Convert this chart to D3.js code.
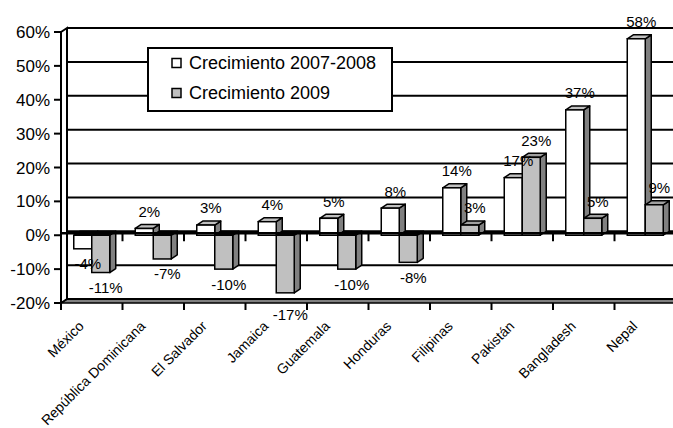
<!DOCTYPE html>
<html><head><meta charset="utf-8">
<script src="https://cdn.jsdelivr.net/npm/d3@7"></script>
<style>body{margin:0;background:#fff}svg{display:block;font-family:"Liberation Sans",Arial,sans-serif}</style>
</head><body><svg id="c" width="673" height="428"></svg>
<script>
const categories = ["México","República Dominicana","El Salvador","Jamaica","Guatemala","Honduras","Filipinas","Pakistán","Bangladesh","Nepal"];
const growth0708 = [-4,2,3,4,5,8,14,17,37,58];
const growth2009 = [-11,-7,-10,-17,-10,-8,3,23,5,9];
const seriesNames = ["Crecimiento 2007-2008","Crecimiento 2009"];
const yTicks = [-20,-10,0,10,20,30,40,50,60];

const W = 673, H = 428;
const DX = 6, DY = -4;
const svg = d3.select("#c");
const x0 = d3.scaleBand().domain(categories).range([61, 676]).paddingInner(0.415).paddingOuter(0.2075);
const x1 = d3.scaleBand().domain([0,1]).range([0, x0.bandwidth()]);
const y = d3.scaleLinear().domain([-20,60]).range([303,32]);
const step = x0.step();
const left = 61, right = W + 10;

const styles = [
  {front:"#ffffff", top:"#c0c0c0", side:"#808080"},
  {front:"#c0c0c0", top:"#a0a0a0", side:"#808080"}
];
const series = [growth0708, growth2009];

// floor
svg.append("polygon")
  .attr("points", [[left,y(-20)],[left+DX,y(-20)+DY],[right,y(-20)+DY],[right,y(-20)]].join(" "))
  .attr("fill","#808080").attr("stroke","#000").attr("stroke-width",1.5);
// back wall gridlines
svg.selectAll("line.grid").data(yTicks).join("line").attr("class","grid")
  .attr("x1",left+DX).attr("x2",right).attr("y1",d=>y(d)+DY).attr("y2",d=>y(d)+DY)
  .attr("stroke","#000").attr("stroke-width",2);
// left wall
svg.append("polygon")
  .attr("points", [[left,y(60)],[left+DX,y(60)+DY],[left+DX,y(-20)+DY],[left,y(-20)]].join(" "))
  .attr("fill","#fff").attr("stroke","#000").attr("stroke-width",2);
// y ticks + labels
svg.selectAll("line.yt").data(yTicks).join("line").attr("class","yt")
  .attr("x1",left-7).attr("x2",left).attr("y1",d=>y(d)).attr("y2",d=>y(d))
  .attr("stroke","#000").attr("stroke-width",2);
svg.selectAll("text.yl").data(yTicks).join("text").attr("class","yl")
  .attr("x",left-11).attr("y",d=>y(d)).attr("dy","0.36em")
  .attr("text-anchor","end").attr("font-size",17).attr("fill","#000")
  .text(d=>d+"%");
// bottom category ticks
const bounds = d3.range(categories.length+1).map(i=>left+i*step);
svg.selectAll("line.bt").data(bounds).join("line").attr("class","bt")
  .attr("x1",d=>d).attr("x2",d=>d).attr("y1",y(-20)).attr("y2",y(-20)+7)
  .attr("stroke","#000").attr("stroke-width",2);

// bars
categories.forEach((c,i)=>{
  series.forEach((s,k)=>{
    const v = s[i];
    const bx = x0(c)+x1(k), w = x1.bandwidth();
    const yt = y(Math.max(v,0)), yb = y(Math.min(v,0));
    const st = styles[k];
    const g = svg.append("g");
    g.append("polygon").attr("points",[[bx+w,yt],[bx+w+DX,yt+DY],[bx+w+DX,yb+DY],[bx+w,yb]].join(" "))
      .attr("fill",st.side).attr("stroke","#000").attr("stroke-width",1.5).attr("stroke-linejoin","round");
    g.append("polygon").attr("points",[[bx,yt],[bx+DX,yt+DY],[bx+w+DX,yt+DY],[bx+w,yt]].join(" "))
      .attr("fill", v<0 ? "#111" : st.top).attr("stroke","#000").attr("stroke-width",1.5).attr("stroke-linejoin","round");
    g.append("rect").attr("x",bx).attr("y",yt).attr("width",w).attr("height",yb-yt)
      .attr("fill",st.front).attr("stroke","#000").attr("stroke-width",1.5);
  });
});

// zero category axis
svg.append("line").attr("x1",left).attr("x2",right).attr("y1",y(0)-2).attr("y2",y(0)-2)
  .attr("stroke","#000").attr("stroke-width",2.5);
svg.selectAll("line.zt").data(bounds.slice(1)).join("line").attr("class","zt")
  .attr("x1",d=>d).attr("x2",d=>d).attr("y1",y(0)-2).attr("y2",y(0)+6)
  .attr("stroke","#000").attr("stroke-width",2);

// data labels
const floorY = y(-20);
categories.forEach((c,i)=>{
  series.forEach((s,k)=>{
    const v = s[i];
    const bx = x0(c)+x1(k), w = x1.bandwidth();
    let cy = v>=0 ? y(v)-17 : y(v)+15;
    if (v < 0 && cy + 6 > floorY + DY) cy = Math.max(cy, floorY + 12);
    svg.append("text").attr("x",bx+w/2+5).attr("y",cy).attr("dy","0.36em")
      .attr("text-anchor","middle").attr("font-size",15).attr("fill","#000")
      .text(v+"%");
  });
});

// category labels
svg.selectAll("text.cl").data(categories).join("text").attr("class","cl")
  .attr("transform",d=>`translate(${x0(d)+x0.bandwidth()/2-7},327) rotate(-45)`)
  .attr("text-anchor","end").attr("font-size",14).attr("fill","#000")
  .text(d=>d);

// legend
const lg = svg.append("g");
lg.append("rect").attr("x",148).attr("y",48).attr("width",244).attr("height",63)
  .attr("fill","#fff").attr("stroke","#000").attr("stroke-width",2);
seriesNames.forEach((n,k)=>{
  const cy = 63 + k*30;
  lg.append("rect").attr("x",172).attr("y",cy-4.5).attr("width",9).attr("height",9)
    .attr("fill",styles[k].front).attr("stroke","#000").attr("stroke-width",1.5);
  lg.append("text").attr("x",189).attr("y",cy).attr("dy","0.36em")
    .attr("font-size",18).attr("fill","#000").text(n);
});
</script></body></html>
